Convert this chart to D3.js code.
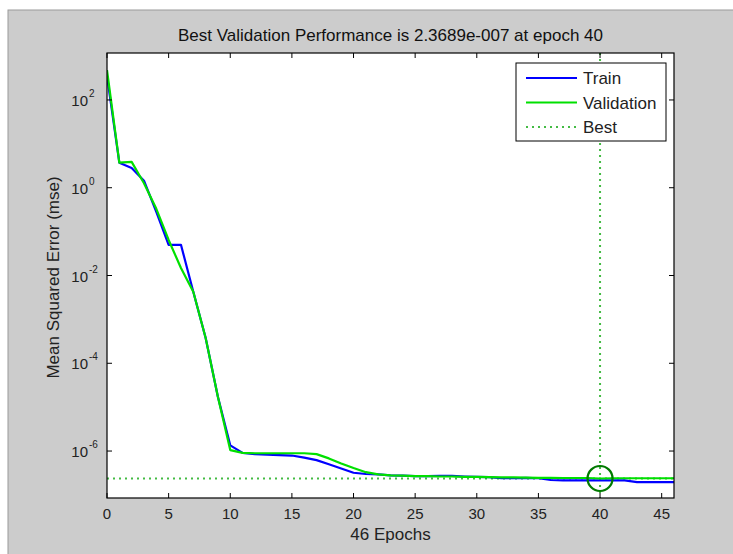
<!DOCTYPE html>
<html>
<head>
<meta charset="utf-8">
<script src="https://cdn.jsdelivr.net/npm/d3@7"></script>
<style>
  html, body { margin: 0; padding: 0; background: #ffffff; }
  svg { display: block; font-family: "Liberation Sans", Arial, sans-serif; }
</style>
</head>
<body>
<svg id="chart" width="733" height="554"></svg>
<script>
// ---- data ----
const epochs = d3.range(0, 47);
const trainPerf = [355, 3.72, 2.82, 1.45, 0.282, 0.0501, 0.0501, 0.00427, 3.8e-4, 1.7e-5,
  1.35e-6, 9.1e-7, 8.5e-7, 8.3e-7, 8.1e-7, 7.9e-7, 7.1e-7, 6.2e-7, 5.0e-7, 4.0e-7,
  3.2e-7, 3.0e-7, 2.95e-7, 2.8e-7, 2.75e-7, 2.69e-7, 2.69e-7, 2.72e-7, 2.72e-7, 2.63e-7,
  2.57e-7, 2.54e-7, 2.40e-7, 2.40e-7, 2.45e-7, 2.40e-7, 2.19e-7, 2.14e-7, 2.14e-7, 2.14e-7,
  2.14e-7, 2.14e-7, 2.14e-7, 1.95e-7, 1.95e-7, 1.95e-7, 1.95e-7];
const valPerf = [479, 3.72, 3.89, 1.26, 0.331, 0.0646, 0.0148, 0.00427, 3.8e-4, 1.7e-5,
  1.05e-6, 9.1e-7, 8.9e-7, 8.9e-7, 8.9e-7, 8.9e-7, 8.9e-7, 8.5e-7, 6.8e-7, 5.2e-7,
  4.1e-7, 3.3e-7, 2.95e-7, 2.8e-7, 2.75e-7, 2.69e-7, 2.69e-7, 2.63e-7, 2.63e-7, 2.57e-7,
  2.57e-7, 2.54e-7, 2.51e-7, 2.51e-7, 2.48e-7, 2.45e-7, 2.45e-7, 2.43e-7, 2.43e-7, 2.43e-7,
  2.3689e-7, 2.40e-7, 2.40e-7, 2.40e-7, 2.40e-7, 2.40e-7, 2.40e-7];
const bestEpoch = 40;
const bestPerf = 2.3689e-7;
const xTicks = [0, 5, 10, 15, 20, 25, 30, 35, 40, 45];
const yTickExps = [2, 0, -2, -4, -6];
const legendLabels = ["Train", "Validation", "Best"];
const titleText = "Best Validation Performance is 2.3689e-007 at epoch 40";
const xLabelText = "46 Epochs";
const yLabelText = "Mean Squared Error  (mse)";

// ---- layout ----
const svg = d3.select("#chart");
const L = 107, R = 674, T = 53, B = 498;

// figure background
svg.append("rect").attr("x", 8).attr("y", 10).attr("width", 733).attr("height", 560)
  .attr("fill", "#cccccc").attr("stroke", "#9a9a9a").attr("stroke-width", 1);

const x = d3.scaleLinear().domain([0, 46]).range([L, R]);
const y = d3.scaleLog().domain([Math.pow(10, -7.07), Math.pow(10, 3.07)]).range([B, T]);

svg.append("rect").attr("x", L).attr("y", T).attr("width", R - L).attr("height", B - T)
  .attr("fill", "#ffffff");

svg.append("clipPath").attr("id", "clip")
  .append("rect").attr("x", L).attr("y", T).attr("width", R - L).attr("height", B - T);

const plot = svg.append("g").attr("clip-path", "url(#clip)");

const line = d3.line().x((d, i) => x(epochs[i])).y(d => y(d));

// best lines
plot.append("line").attr("x1", L).attr("x2", R).attr("y1", y(bestPerf)).attr("y2", y(bestPerf))
  .attr("stroke", "#44bb44").attr("stroke-width", 2).attr("stroke-dasharray", "2,4");
plot.append("line").attr("x1", x(bestEpoch)).attr("x2", x(bestEpoch)).attr("y1", T).attr("y2", B)
  .attr("stroke", "#44bb44").attr("stroke-width", 2).attr("stroke-dasharray", "2,4");

plot.append("path").datum(trainPerf).attr("d", line).attr("fill", "none")
  .attr("stroke", "#0000ff").attr("stroke-width", 2.2).attr("stroke-linejoin", "round");
plot.append("path").datum(valPerf).attr("d", line).attr("fill", "none")
  .attr("stroke", "#00e000").attr("stroke-width", 2.2).attr("stroke-linejoin", "round");

// best circle
svg.append("circle").attr("cx", x(bestEpoch)).attr("cy", y(bestPerf)).attr("r", 12.5)
  .attr("fill", "none").attr("stroke", "#007a00").attr("stroke-width", 2.2);

// axes (inward ticks, box)
const axisG = svg.append("g");
const tickLen = 5;
xTicks.forEach(t => {
  axisG.append("line").attr("x1", x(t)).attr("x2", x(t)).attr("y1", B).attr("y2", B - tickLen)
    .attr("stroke", "#000");
  axisG.append("line").attr("x1", x(t)).attr("x2", x(t)).attr("y1", T).attr("y2", T + tickLen)
    .attr("stroke", "#000");
  axisG.append("text").attr("x", x(t)).attr("y", B + 21).attr("text-anchor", "middle")
    .attr("font-size", 15).attr("fill", "#222").text(t);
});
yTickExps.forEach(e => {
  const v = Math.pow(10, e);
  axisG.append("line").attr("x1", L).attr("x2", L + tickLen).attr("y1", y(v)).attr("y2", y(v))
    .attr("stroke", "#000");
  axisG.append("line").attr("x1", R).attr("x2", R - tickLen).attr("y1", y(v)).attr("y2", y(v))
    .attr("stroke", "#000");
  axisG.append("text").attr("x", 88).attr("y", y(v) + 6).attr("text-anchor", "end")
    .attr("font-size", 15).attr("fill", "#222").text("10");
  axisG.append("text").attr("x", 89).attr("y", y(v) - 3).attr("text-anchor", "start")
    .attr("font-size", 10).attr("fill", "#222").text(e < 0 ? "-" + Math.abs(e) : String(e));
});
axisG.append("rect").attr("x", L).attr("y", T).attr("width", R - L).attr("height", B - T)
  .attr("fill", "none").attr("stroke", "#000").attr("stroke-width", 1.2);

// title and labels
svg.append("text").attr("x", (L + R) / 2).attr("y", 41).attr("text-anchor", "middle")
  .attr("font-size", 17).attr("fill", "#111").text(titleText);
svg.append("text").attr("x", (L + R) / 2).attr("y", 540).attr("text-anchor", "middle")
  .attr("font-size", 17).attr("fill", "#222").text(xLabelText);
svg.append("text").attr("transform", `translate(59,${(T + B) / 2 + 2}) rotate(-90)`)
  .attr("text-anchor", "middle").attr("font-size", 17).attr("fill", "#222").text(yLabelText);

// legend
const lg = svg.append("g");
lg.append("rect").attr("x", 516).attr("y", 63).attr("width", 150).attr("height", 78)
  .attr("fill", "#ffffff").attr("stroke", "#000").attr("stroke-width", 1);
const legStyles = [
  { color: "#0000ff", dash: null },
  { color: "#00e000", dash: null },
  { color: "#44bb44", dash: "2,4" }
];
legendLabels.forEach((lab, i) => {
  const yy = 78 + i * 24.5;
  const ln = lg.append("line").attr("x1", 526).attr("x2", 577).attr("y1", yy).attr("y2", yy)
    .attr("stroke", legStyles[i].color).attr("stroke-width", 2.2);
  if (legStyles[i].dash) ln.attr("stroke-dasharray", legStyles[i].dash);
  lg.append("text").attr("x", 583).attr("y", yy + 6).attr("font-size", 17).attr("fill", "#222").text(lab);
});
</script>
</body>
</html>
